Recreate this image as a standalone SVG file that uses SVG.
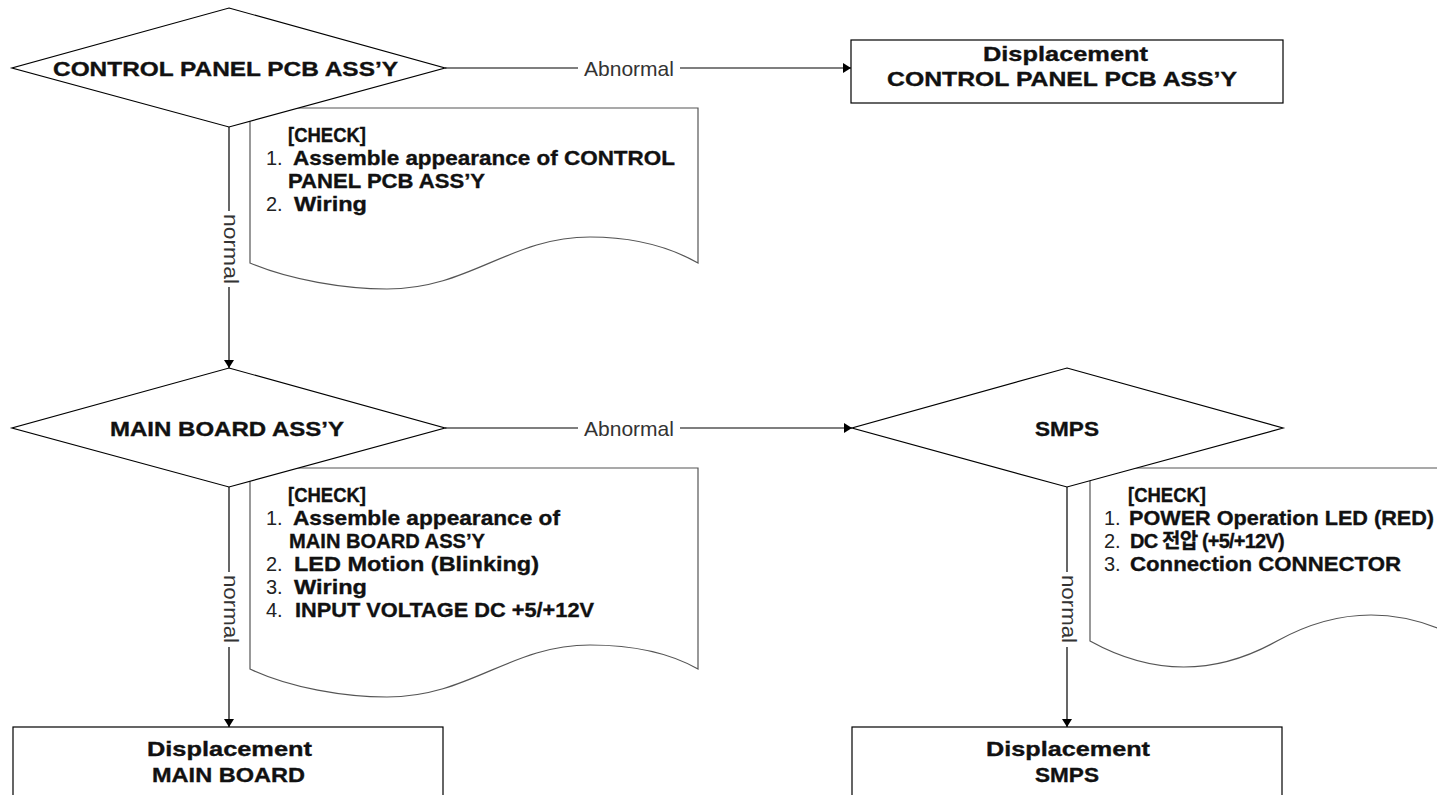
<svg xmlns="http://www.w3.org/2000/svg" width="1437" height="795" viewBox="0 0 1437 795">
<style>
.shape{fill:#fff;stroke:#000;stroke-width:1.2}
.doc{fill:#fff;stroke:#555;stroke-width:1.2}
.conn{fill:none;stroke:#000;stroke-width:1.2}
.b{font-family:"Liberation Sans","Noto Sans CJK KR",sans-serif;font-weight:bold;font-size:21px;fill:#111;stroke:#111;stroke-width:0.35}
.n{font-family:"Liberation Sans","Noto Sans CJK KR",sans-serif;font-size:20px;fill:#222}
.lbl{font-family:"Liberation Sans",sans-serif;font-size:21px;fill:#333}
</style>
<defs>
<marker id="arr" viewBox="0 0 8 10" refX="8" refY="5" markerWidth="8" markerHeight="10" markerUnits="userSpaceOnUse" orient="auto">
<path d="M0,0 L8,5 L0,10 z" fill="#000"/>
</marker>
</defs>
<rect width="1437" height="795" fill="#fff"/>

<g id="check1">
<path class="doc" d="M250,108 H698 V263 C675,250 640,237 590,237 C510,237 470,289 387,289 C345,289 290,280 250,263 Z"/>
<text class="b" x="288" y="142" textLength="78" lengthAdjust="spacingAndGlyphs">[CHECK]</text>
<text class="n" x="266" y="165">1.</text>
<text class="b" x="293" y="165" textLength="382" lengthAdjust="spacingAndGlyphs">Assemble appearance of CONTROL</text>
<text class="b" x="288" y="188" textLength="197" lengthAdjust="spacingAndGlyphs">PANEL PCB ASS’Y</text>
<text class="n" x="266" y="211">2.</text>
<text class="b" x="294" y="211" textLength="73" lengthAdjust="spacingAndGlyphs">Wiring</text>
</g>

<g id="check2">
<path class="doc" d="M250,468 H698 V669 C675,656 640,645 590,645 C510,645 470,697 387,697 C345,697 290,688 250,669 Z"/>
<text class="b" x="288" y="502" textLength="78" lengthAdjust="spacingAndGlyphs">[CHECK]</text>
<text class="n" x="266" y="525">1.</text>
<text class="b" x="293" y="525" textLength="267" lengthAdjust="spacingAndGlyphs">Assemble appearance of</text>
<text class="b" x="289" y="548" textLength="196" lengthAdjust="spacingAndGlyphs">MAIN BOARD ASS’Y</text>
<text class="n" x="266" y="571">2.</text>
<text class="b" x="294" y="571" textLength="245" lengthAdjust="spacingAndGlyphs">LED Motion (Blinking)</text>
<text class="n" x="266" y="594">3.</text>
<text class="b" x="294" y="594" textLength="73" lengthAdjust="spacingAndGlyphs">Wiring</text>
<text class="n" x="266" y="617">4.</text>
<text class="b" x="295" y="617" textLength="299" lengthAdjust="spacingAndGlyphs">INPUT VOLTAGE DC +5/+12V</text>
</g>

<g id="check3">
<path class="doc" d="M1090,468 H1465 V641 Q1371,589 1277,641 Q1184,693 1090,641 Z"/>
<text class="b" x="1128" y="502" textLength="78" lengthAdjust="spacingAndGlyphs">[CHECK]</text>
<text class="n" x="1104" y="525">1.</text>
<text class="b" x="1129" y="525" textLength="305" lengthAdjust="spacingAndGlyphs">POWER Operation LED (RED)</text>
<text class="n" x="1104" y="548">2.</text>
<text class="b" x="1130" y="548" style="font-size:20px;letter-spacing:-0.8px">DC 전압 (+5/+12V)</text>
<text class="n" x="1104" y="571">3.</text>
<text class="b" x="1130" y="571" textLength="271" lengthAdjust="spacingAndGlyphs">Connection CONNECTOR</text>
</g>

<g id="connectors">
<path class="conn" d="M445,68 H578"/>
<path class="conn" d="M680,68 H851" marker-end="url(#arr)"/>
<text class="lbl" x="584" y="76" textLength="90" lengthAdjust="spacingAndGlyphs">Abnormal</text>
<path class="conn" d="M229,127 V211"/>
<path class="conn" d="M229,287 V368" marker-end="url(#arr)"/>
<text class="lbl" transform="translate(229,249) rotate(90)" x="0" y="5" text-anchor="middle" textLength="70" lengthAdjust="spacingAndGlyphs">normal</text>
<path class="conn" d="M445,428 H578"/>
<path class="conn" d="M680,428 H852" marker-end="url(#arr)"/>
<text class="lbl" x="584" y="436" textLength="90" lengthAdjust="spacingAndGlyphs">Abnormal</text>
<path class="conn" d="M229,487 V572"/>
<path class="conn" d="M229,647 V727" marker-end="url(#arr)"/>
<text class="lbl" transform="translate(229,609) rotate(90)" x="0" y="5" text-anchor="middle" textLength="68" lengthAdjust="spacingAndGlyphs">normal</text>
<path class="conn" d="M1067,487 V572"/>
<path class="conn" d="M1067,647 V727" marker-end="url(#arr)"/>
<text class="lbl" transform="translate(1067,609) rotate(90)" x="0" y="5" text-anchor="middle" textLength="68" lengthAdjust="spacingAndGlyphs">normal</text>
</g>

<g id="d-control">
<polygon class="shape" points="229,8 445,68 229,127 12,68"/>
<text class="b" x="53" y="76" textLength="345" lengthAdjust="spacingAndGlyphs">CONTROL PANEL PCB ASS’Y</text>
</g>

<g id="d-main">
<polygon class="shape" points="229,368 445,428 229,487 12,428"/>
<text class="b" x="110" y="436" textLength="234" lengthAdjust="spacingAndGlyphs">MAIN BOARD ASS’Y</text>
</g>

<g id="d-smps">
<polygon class="shape" points="1067,368 1283,428 1067,487 852,428"/>
<text class="b" x="1035" y="436" textLength="64" lengthAdjust="spacingAndGlyphs">SMPS</text>
</g>

<g id="r-control">
<rect class="shape" x="851" y="40" width="432" height="63"/>
<text class="b" x="983" y="61" textLength="165" lengthAdjust="spacingAndGlyphs">Displacement</text>
<text class="b" x="887" y="86" textLength="350" lengthAdjust="spacingAndGlyphs">CONTROL PANEL PCB ASS’Y</text>
</g>

<g id="r-main">
<rect class="shape" x="13" y="727" width="430" height="90"/>
<text class="b" x="147" y="756" textLength="165" lengthAdjust="spacingAndGlyphs">Displacement</text>
<text class="b" x="152" y="782" textLength="153" lengthAdjust="spacingAndGlyphs">MAIN BOARD</text>
</g>

<g id="r-smps">
<rect class="shape" x="852" y="727" width="430" height="90"/>
<text class="b" x="986" y="756" textLength="164" lengthAdjust="spacingAndGlyphs">Displacement</text>
<text class="b" x="1035" y="782" textLength="64" lengthAdjust="spacingAndGlyphs">SMPS</text>
</g>
</svg>
